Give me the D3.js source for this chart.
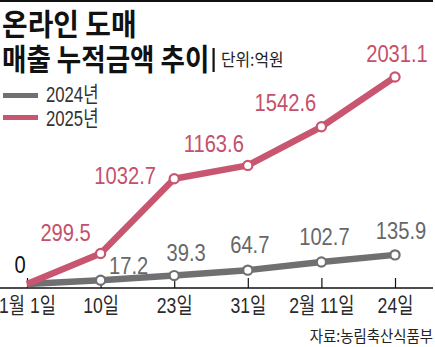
<!DOCTYPE html>
<html><head><meta charset="utf-8">
<script src="https://cdn.jsdelivr.net/npm/d3@7"></script>
<style>
html,body{margin:0;padding:0;background:#fff;}
svg{display:block;}
</style></head>
<body>
<svg id="chart" width="435" height="347"></svg>
<script>
// ---- data ----
const categories = ["1월 1일", "10일", "23일", "31일", "2월 11일", "24일"];
const values2024 = [0, 17.2, 39.3, 64.7, 102.7, 135.9];
const values2025 = [0, 299.5, 1032.7, 1163.6, 1542.6, 2031.1];
const seriesNames = ["2024년", "2025년"];
const titleLines = ["온라인 도매", "매출 누적금액 추이"];
const unitText = "단위:억원";
const sourceText = "자료:농림축산식품부";

// ---- layout / style (not data) ----
const PINK = "#c95670", GRAY = "#707072";
const PINK_TXT = "#c4506a", GRAY_TXT = "#676769";
const NUM_FONT = "'Liberation Sans', Arial, sans-serif";
const KR_FONT = "'Liberation Sans', 'Noto Sans CJK KR', sans-serif";
const pinkOff = [null, [-35, -12], [-49, 5], [-34, -13], [-36, -16], [2, -15]];
const grayOff = [null, [28, -6], [12, -15], [2, -17], [3, -17], [6, -16]];

const svg = d3.select("#chart");

const x = d3.scalePoint().domain(categories).range([27, 395]);
const y25 = d3.scaleLinear().domain([0, 2100]).range([284, 70]);
const y24 = d3.scaleLinear().domain([0, 140]).range([284, 254]);

function txt(g, str, px, py, opts) {
  const t = g.append("text")
    .attr("transform", `translate(${px},${py}) scale(${opts.sx || 1},1)`)
    .attr("font-family", opts.family || KR_FONT)
    .attr("font-size", opts.size)
    .attr("font-weight", opts.weight || 400)
    .attr("fill", opts.fill || "#222")
    .attr("text-anchor", opts.anchor || "start")
    .text(str);
  return t;
}

// top rule
svg.append("line").attr("x1", 0).attr("x2", 433).attr("y1", 1).attr("y2", 1)
  .attr("stroke", "#111").attr("stroke-width", 2);

// title
txt(svg, titleLines[0], 2, 35, {size: 30, weight: 700, sx: 0.93, family: "'Noto Sans CJK KR', sans-serif", fill: "#111"});
txt(svg, titleLines[1], 2, 70, {size: 30, weight: 700, sx: 0.885, family: "'Noto Sans CJK KR', sans-serif", fill: "#111"});
svg.append("rect").attr("x", 212.5).attr("y", 48).attr("width", 2.2).attr("height", 24).attr("fill", "#111");
txt(svg, unitText, 221, 66, {size: 17, sx: 0.93, family: "'Noto Sans CJK KR', sans-serif", fill: "#222"});

// legend
const legend = [[seriesNames[0], GRAY, 95.5, 102], [seriesNames[1], PINK, 117.5, 126]];
legend.forEach(([name, c, ly, ty]) => {
  svg.append("line").attr("x1", 3).attr("x2", 38).attr("y1", ly).attr("y2", ly)
    .attr("stroke", c).attr("stroke-width", 5);
  txt(svg, name, 46, ty, {size: 22, sx: 0.76, fill: "#333"});
});

// axis
const axisY = 288;
const axis = d3.axisBottom(x).tickSize(0).tickPadding(0);
const ax = svg.append("g").attr("transform", `translate(0,${axisY})`).call(axis);
ax.select(".domain").remove();
ax.selectAll(".tick text").remove();
ax.append("line").attr("x1", 0).attr("x2", 433).attr("stroke", "#111").attr("stroke-width", 1.5);
ax.selectAll(".tick").each(function(d) {
  const g = d3.select(this);
  g.append("line").attr("y1", -10).attr("y2", 0).attr("stroke", "#111").attr("stroke-width", 1.2);
  txt(g, d, 0, 25, {size: 22, sx: 0.8, anchor: "middle", fill: "#2a2a2a"});
});

// lines
const line24 = d3.line().x((d, i) => x(categories[i])).y(d => y24(d));
const line25 = d3.line().x((d, i) => x(categories[i])).y(d => y25(d));

svg.append("path").datum(values2024).attr("d", line24)
  .attr("fill", "none").attr("stroke", GRAY).attr("stroke-width", 6.5).attr("stroke-linejoin", "round");
svg.append("path").datum(values2025).attr("d", line25)
  .attr("fill", "none").attr("stroke", PINK).attr("stroke-width", 6.5).attr("stroke-linejoin", "round");

function markers(vals, ys, color) {
  svg.append("g").selectAll("circle").data(vals.slice(1)).join("circle")
    .attr("cx", (d, i) => x(categories[i + 1]))
    .attr("cy", d => ys(d))
    .attr("r", 4.6).attr("fill", "#fff").attr("stroke", color).attr("stroke-width", 2.2);
}
markers(values2024, y24, GRAY);
markers(values2025, y25, PINK);

// value labels
values2025.forEach((v, i) => {
  if (i === 0) return;
  const [dx, dy] = pinkOff[i];
  txt(svg, String(v), x(categories[i]) + dx, y25(v) + dy, {size: 24, sx: 0.84, anchor: "middle", family: NUM_FONT, fill: PINK_TXT});
});
values2024.forEach((v, i) => {
  if (i === 0) return;
  const [dx, dy] = grayOff[i];
  txt(svg, String(v), x(categories[i]) + dx, y24(v) + dy, {size: 24, sx: 0.84, anchor: "middle", family: NUM_FONT, fill: GRAY_TXT});
});
txt(svg, "0", x(categories[0]) - 7, 273, {size: 24, sx: 0.84, anchor: "middle", family: NUM_FONT, fill: "#111"});

// source
txt(svg, sourceText, 433, 342, {size: 16, sx: 0.9, anchor: "end", family: "'Noto Sans CJK KR', sans-serif", fill: "#222"});
</script>
</body></html>
